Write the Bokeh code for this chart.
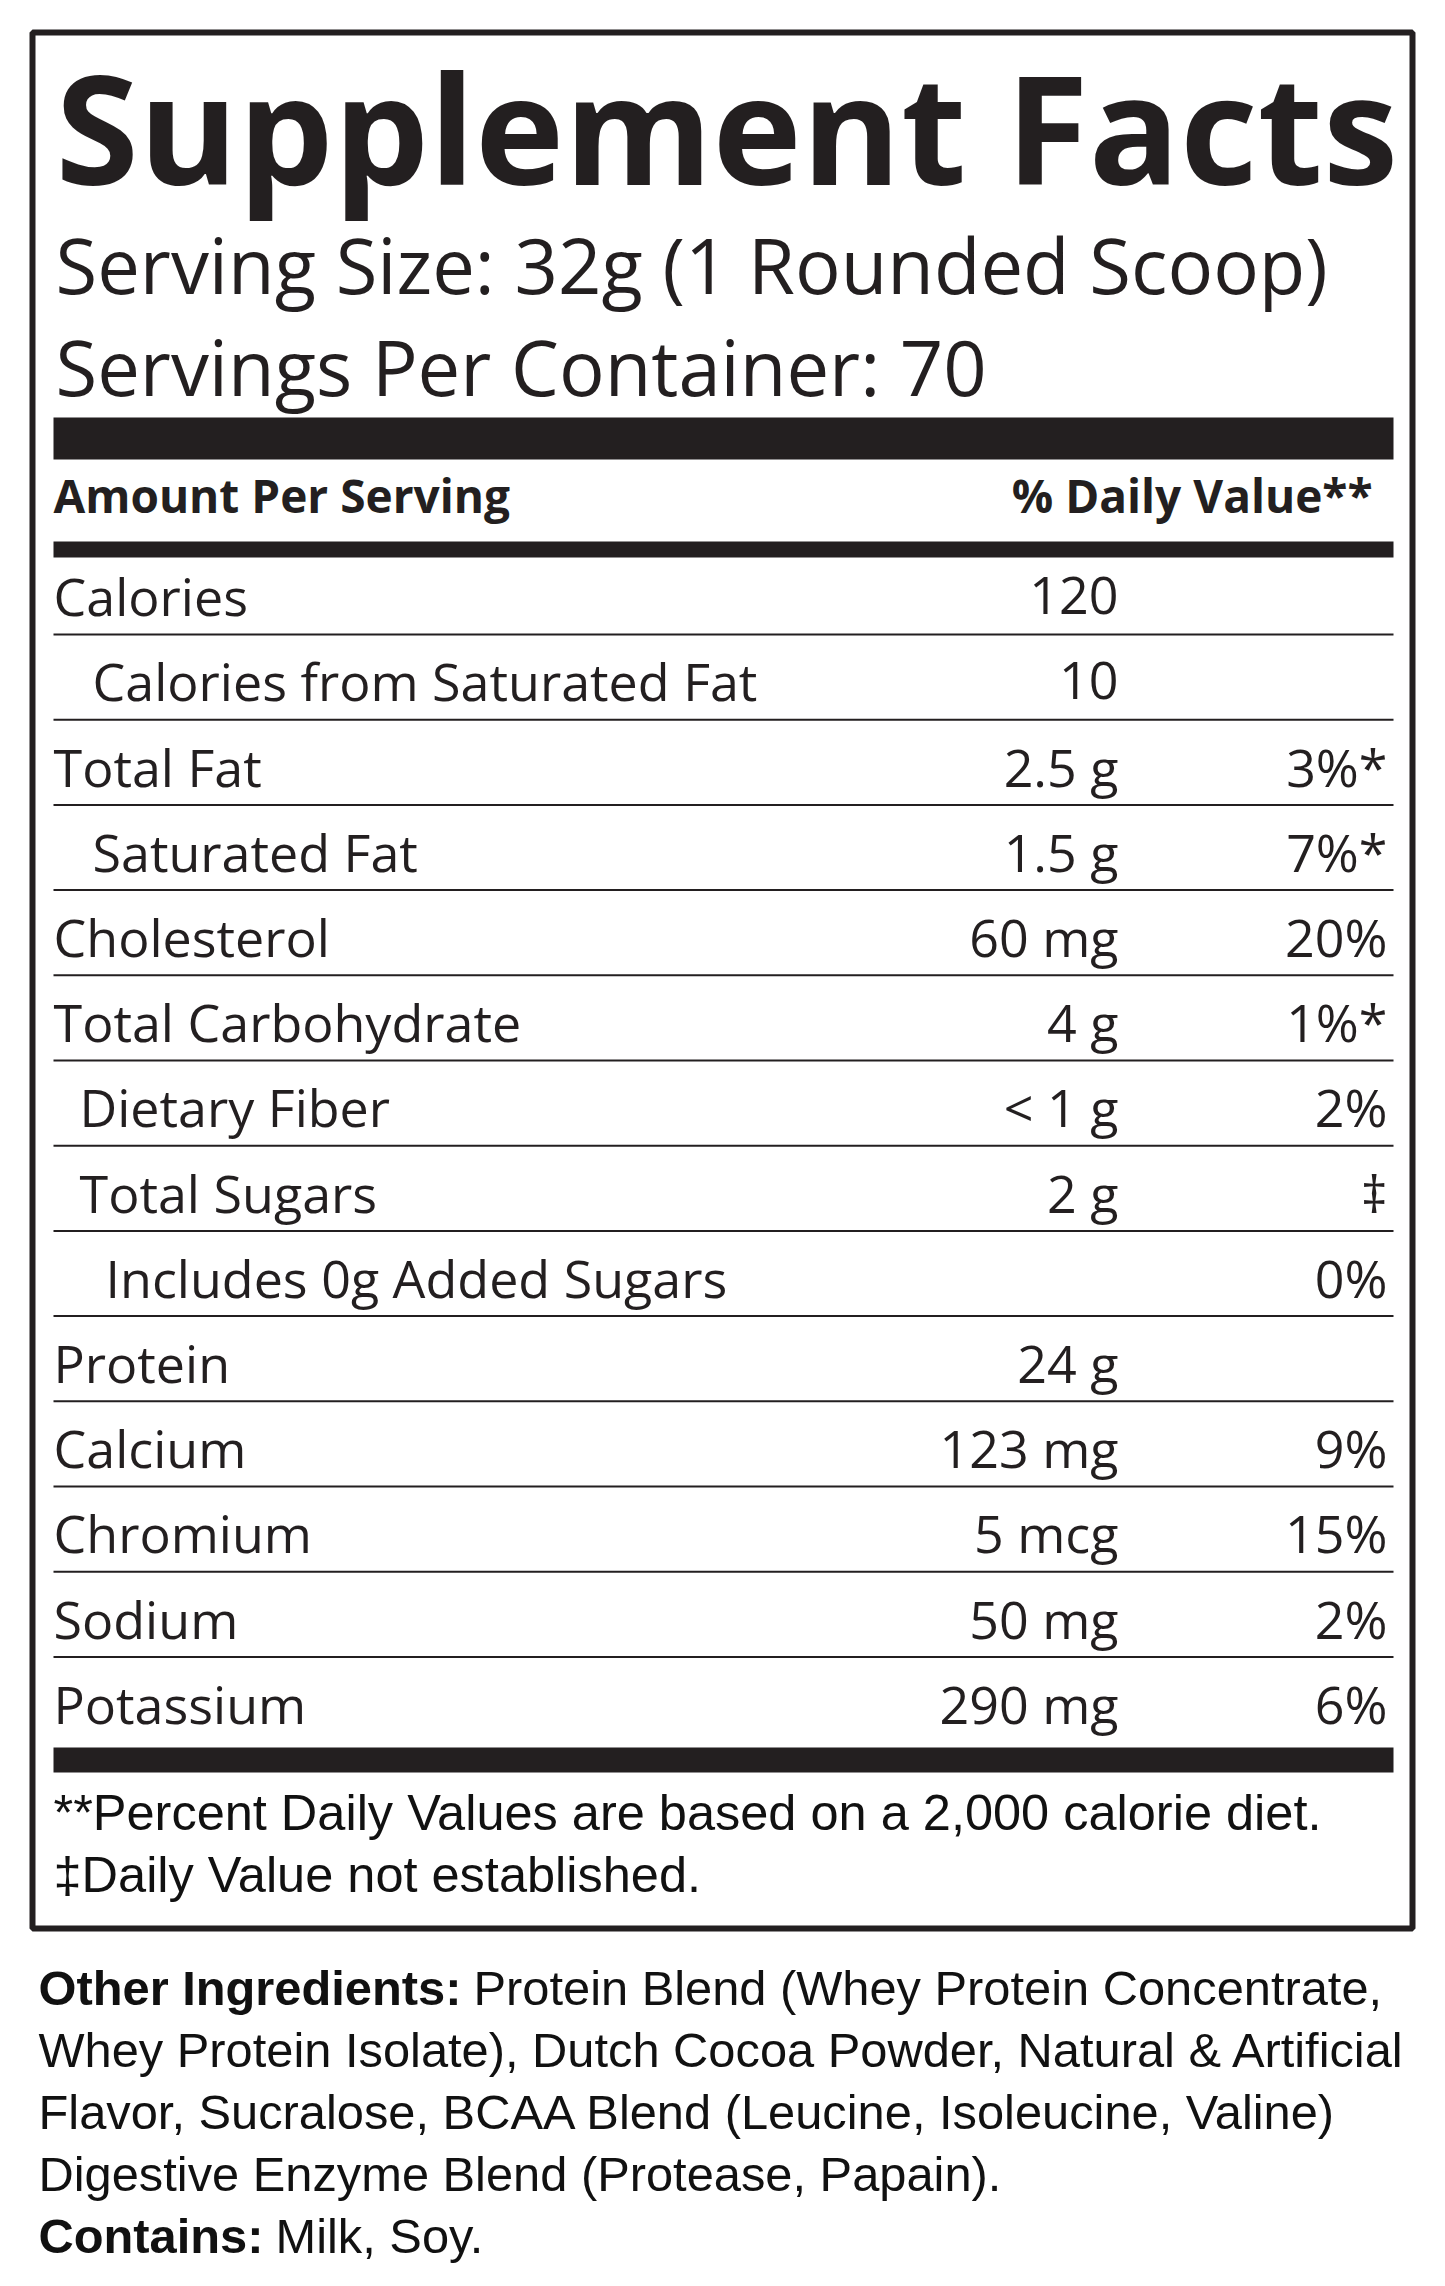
from bokeh.plotting import figure
from bokeh.models import Range1d, ColumnDataSource
from bokeh.core.properties import value
from bokeh.embed import file_html
from bokeh.resources import INLINE

# Label data
title = "Supplement Facts"
serving_lines = ["Serving Size: 32g (1 Rounded Scoop)", "Servings Per Container: 70"]
header_left = "Amount Per Serving"
header_right = "% Daily Value**"

nutrients = ["Calories", "Calories from Saturated Fat", "Total Fat", "Saturated Fat",
             "Cholesterol", "Total Carbohydrate", "Dietary Fiber", "Total Sugars",
             "Includes 0g Added Sugars", "Protein", "Calcium", "Chromium", "Sodium",
             "Potassium"]
amounts = ["120", "10", "2.5 g", "1.5 g", "60 mg", "4 g", "< 1 g", "2 g", "",
           "24 g", "123 mg", "5 mcg", "50 mg", "290 mg"]
daily_values = ["", "", "3%*", "7%*", "20%", "1%*", "2%", "\u2021", "0%", "",
                "9%", "15%", "2%", "6%"]

footnotes = ["**Percent Daily Values are based on a 2,000 calorie diet.",
             "\u2021Daily Value not established."]

ingredient_heads = ["Other Ingredients:", "", "", "", "Contains:"]
ingredient_lines = ["Protein Blend (Whey Protein Concentrate,",
                    "Whey Protein Isolate), Dutch Cocoa Powder, Natural & Artificial",
                    "Flavor, Sucralose, BCAA Blend (Leucine, Isoleucine, Valine)",
                    "Digestive Enzyme Blend (Protease, Papain).",
                    "Milk, Soy."]

# Layout (pixel coordinates of the label)
INK = "#231f20"
BLACK = "#111111"
MYRIAD = value("Open Sans")
HELV = value("Liberation Sans")
X0, X1 = 53, 1393


def base(y, size, k=0.38):
    # bokeh sets "alphabetic" text a bit low, by an amount that depends on the font
    return y - k * size


label_x = [53, 92, 53, 92, 53, 53, 79, 79, 105, 53, 53, 53, 53, 53]
row_pitch = 85.2
row_base = [base(615 + row_pitch * i, 52) for i in range(len(nutrients))]
sep_y = [634 + row_pitch * i for i in range(len(nutrients) - 1)]

p = figure(width=1429, height=2270, x_range=Range1d(0, 1429), y_range=Range1d(2270, 0),
           x_axis_type=None, y_axis_type=None, toolbar_location=None,
           output_backend="svg", min_border=0, background_fill_color="white")
p.grid.visible = False
p.outline_line_color = None

# outer box
p.quad(left=[32], right=[1412], top=[32], bottom=[1928], fill_alpha=0,
       line_color=INK, line_width=6)

# heavy bars
p.quad(left=[X0] * 3, right=[X1] * 3, top=[417, 541, 1747], bottom=[459, 557, 1772],
       fill_color=INK, line_color=None)

# thin separators
p.segment(x0=[X0] * len(sep_y), x1=[X1] * len(sep_y), y0=sep_y, y1=sep_y,
          line_color=INK, line_width=2)

# title block
p.text(x=[55], y=[base(183, 151)], text=[title], text_font=MYRIAD, text_font_style="bold",
       text_font_size="151px", text_color=INK, text_baseline="alphabetic")
p.text(x=[55, 55], y=[base(293, 76), base(395, 76)], text=serving_lines, text_font=MYRIAD,
       text_font_size="76px", text_color=INK, text_baseline="alphabetic")

# column headers
p.text(x=[53], y=[base(512, 46)], text=[header_left], text_font=MYRIAD,
       text_font_style="bold", text_font_size="46px", text_color=INK,
       text_baseline="alphabetic")
p.text(x=[1372], y=[base(512, 46)], text=[header_right], text_font=MYRIAD,
       text_font_style="bold", text_font_size="46px", text_color=INK,
       text_baseline="alphabetic", text_align="right")

# nutrient rows
rows = ColumnDataSource(dict(name=nutrients, amount=amounts, dv=daily_values,
                             lx=label_x, y=row_base,
                             ax=[1118] * len(nutrients), dx=[1387] * len(nutrients)))
p.text(x="lx", y="y", text="name", source=rows, text_font=MYRIAD,
       text_font_size="52px", text_color=INK, text_baseline="alphabetic")
p.text(x="ax", y="y", text="amount", source=rows, text_font=MYRIAD,
       text_font_size="52px", text_color=INK, text_baseline="alphabetic",
       text_align="right")
p.text(x="dx", y="y", text="dv", source=rows, text_font=MYRIAD,
       text_font_size="52px", text_color=INK, text_baseline="alphabetic",
       text_align="right")

# footnotes
p.text(x=[53, 53], y=[base(1825, 50.5, 0.26), base(1887, 50.5, 0.26)], text=footnotes,
       text_font=HELV, text_font_size="50.5px", text_color=BLACK,
       text_baseline="alphabetic")

# ingredients
ing_y = [base(y, 48.8, 0.26) for y in [2000, 2062, 2124, 2186, 2248]]
p.text(x=[38] * 5, y=ing_y, text=ingredient_heads, text_font=HELV, text_font_style="bold",
       text_font_size="48.8px", text_color=BLACK, text_baseline="alphabetic")
p.text(x=[473, 38, 38, 38, 275], y=ing_y, text=ingredient_lines, text_font=HELV,
       text_font_size="48.8px", text_color=BLACK, text_baseline="alphabetic")

open("out.html", "w").write(file_html(p, INLINE))
